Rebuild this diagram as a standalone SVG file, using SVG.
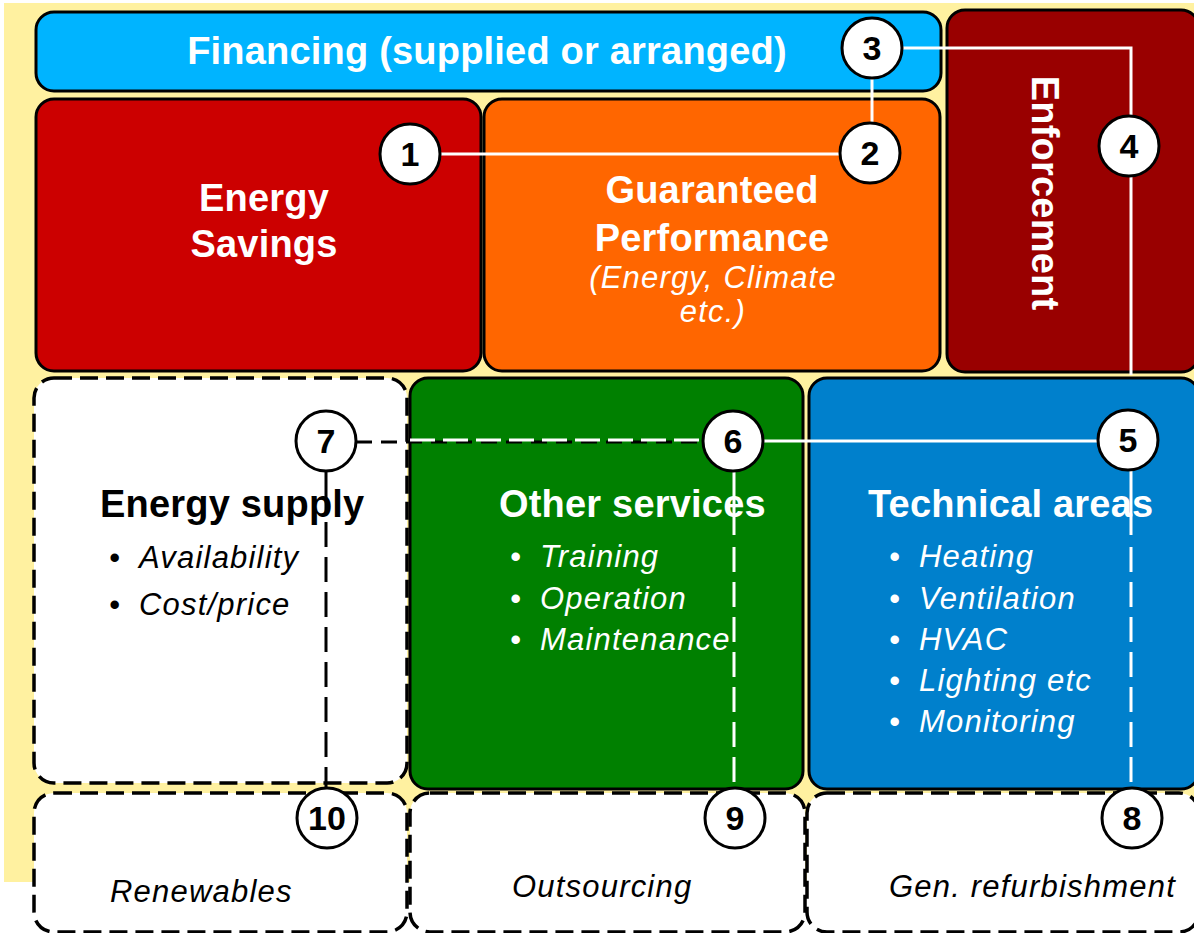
<svg xmlns="http://www.w3.org/2000/svg" width="1194" height="933" viewBox="0 0 1194 933">
<style>
.box{stroke:#000;stroke-width:3}
.dbox{fill:#fff;stroke:#000;stroke-width:3.5;stroke-dasharray:18 8}
.t{font-family:"Liberation Sans",Arial,sans-serif}
.b{font-weight:bold;font-size:38px;letter-spacing:0.2px}
.i{font-style:italic;font-size:31px;letter-spacing:1.2px}
.w{fill:#fff}
.k{fill:#000}
.c circle{fill:#fff;stroke:#000;stroke-width:3}
.c text{font-family:"Liberation Sans",Arial,sans-serif;font-weight:bold;font-size:34px;fill:#000;text-anchor:middle}
.ws{stroke:#fff;stroke-width:3;fill:none}
.wd{stroke:#fff;stroke-width:3;fill:none;stroke-dasharray:25 10}
.kd{stroke:#000;stroke-width:3;fill:none;stroke-dasharray:25 10}
</style>
<rect width="1194" height="933" fill="#fff"/>
<rect x="4" y="3" width="1192" height="879" fill="#FFF1A0"/>

<g id="financing">
<rect class="box" x="36" y="12" width="905" height="79" rx="18" fill="#00B4FF"/>
<text class="t b w" x="487" y="64" text-anchor="middle">Financing (supplied or arranged)</text>
</g>
<g id="energy-savings">
<rect class="box" x="36" y="99" width="445" height="272" rx="18" fill="#CC0000"/>
<text class="t b w" x="264" y="211" text-anchor="middle">Energy</text>
<text class="t b w" x="264" y="257" text-anchor="middle">Savings</text>
</g>
<g id="guaranteed-performance">
<rect class="box" x="484" y="99" width="456" height="272" rx="18" fill="#FF6600"/>
<text class="t b w" x="712" y="203" text-anchor="middle">Guaranteed</text>
<text class="t b w" x="712" y="251" text-anchor="middle">Performance</text>
<text class="t i w" x="713" y="288" text-anchor="middle">(Energy, Climate</text>
<text class="t i w" x="713" y="322" text-anchor="middle">etc.)</text>
</g>
<g id="enforcement">
<rect class="box" x="947" y="10" width="252" height="362" rx="18" fill="#990000"/>
<text class="t b w" transform="translate(1032,193) rotate(90)" text-anchor="middle">Enforcement</text>
</g>
<g id="energy-supply">
<rect class="dbox" x="34" y="378" width="373" height="405" rx="20"/>
<text class="t b k" x="100" y="517">Energy supply</text>
<text class="t i k" x="109" y="568">•</text><text class="t i k" x="139" y="568">Availability</text>
<text class="t i k" x="109" y="615">•</text><text class="t i k" x="139" y="615">Cost/price</text>
</g>
<g id="other-services">
<rect class="box" x="410" y="378" width="393" height="411" rx="18" fill="#008000"/>
<text class="t b w" x="499" y="517">Other services</text>
<text class="t i w" x="510" y="567">•</text><text class="t i w" x="540" y="567">Training</text>
<text class="t i w" x="510" y="609">•</text><text class="t i w" x="540" y="609">Operation</text>
<text class="t i w" x="510" y="650">•</text><text class="t i w" x="540" y="650">Maintenance</text>
</g>
<g id="technical-areas">
<rect class="box" x="809" y="378" width="390" height="411" rx="18" fill="#0080CC"/>
<text class="t b w" x="868" y="517">Technical areas</text>
<text class="t i w" x="889" y="567">•</text><text class="t i w" x="919" y="567">Heating</text>
<text class="t i w" x="889" y="609">•</text><text class="t i w" x="919" y="609">Ventilation</text>
<text class="t i w" x="889" y="650">•</text><text class="t i w" x="919" y="650">HVAC</text>
<text class="t i w" x="889" y="691">•</text><text class="t i w" x="919" y="691">Lighting etc</text>
<text class="t i w" x="889" y="732">•</text><text class="t i w" x="919" y="732">Monitoring</text>
</g>
<g id="renewables">
<rect class="dbox" x="34" y="793" width="373" height="139" rx="20"/>
<text class="t i k" x="110" y="902">Renewables</text>
</g>
<g id="outsourcing">
<rect class="dbox" x="410" y="793" width="395" height="139" rx="20"/>
<text class="t i k" x="512" y="897">Outsourcing</text>
</g>
<g id="gen-refurbishment">
<rect class="dbox" x="807" y="793" width="392" height="139" rx="20"/>
<text class="t i k" x="889" y="897">Gen. refurbishment</text>
</g>

<g id="connectors">
<line class="ws" x1="440" y1="154" x2="840" y2="154"/>
<line class="ws" x1="872" y1="78" x2="872" y2="123"/>
<polyline class="ws" points="902,48 1131,48 1131,116"/>
<line class="ws" x1="1131" y1="176" x2="1131" y2="375"/>
<line class="ws" x1="763" y1="441" x2="1098" y2="441"/>
<line class="kd" x1="356" y1="442" x2="703" y2="442" style="stroke-dasharray:16 9"/>
<line class="wd" x1="410" y1="440" x2="703" y2="440" style="stroke-dasharray:25 8"/>
<line class="ws" x1="734" y1="471" x2="734" y2="535"/>
<line class="wd" x1="734" y1="547" x2="734" y2="788"/>
<line class="ws" x1="1131" y1="470" x2="1131" y2="535"/>
<line class="wd" x1="1131" y1="547" x2="1131" y2="788"/>
<line class="kd" x1="326" y1="471" x2="326" y2="512" style="stroke-dasharray:none"/>
<line class="kd" x1="326" y1="522" x2="326" y2="789"/>
</g>

<g id="circle-1" class="c"><circle cx="410" cy="154" r="30"/><text x="410" y="166">1</text></g>
<g id="circle-2" class="c"><circle cx="870" cy="153" r="30"/><text x="870" y="165">2</text></g>
<g id="circle-3" class="c"><circle cx="872" cy="48" r="30"/><text x="872" y="60">3</text></g>
<g id="circle-4" class="c"><circle cx="1129" cy="146" r="30"/><text x="1129" y="158">4</text></g>
<g id="circle-5" class="c"><circle cx="1128" cy="440" r="30"/><text x="1128" y="452">5</text></g>
<g id="circle-6" class="c"><circle cx="733" cy="441" r="30"/><text x="733" y="453">6</text></g>
<g id="circle-7" class="c"><circle cx="326" cy="441" r="30"/><text x="326" y="453">7</text></g>
<g id="circle-8" class="c"><circle cx="1132" cy="818" r="30"/><text x="1132" y="830">8</text></g>
<g id="circle-9" class="c"><circle cx="735" cy="818" r="30"/><text x="735" y="830">9</text></g>
<g id="circle-10" class="c"><circle cx="327" cy="818" r="30"/><text x="327" y="830">10</text></g>
</svg>
